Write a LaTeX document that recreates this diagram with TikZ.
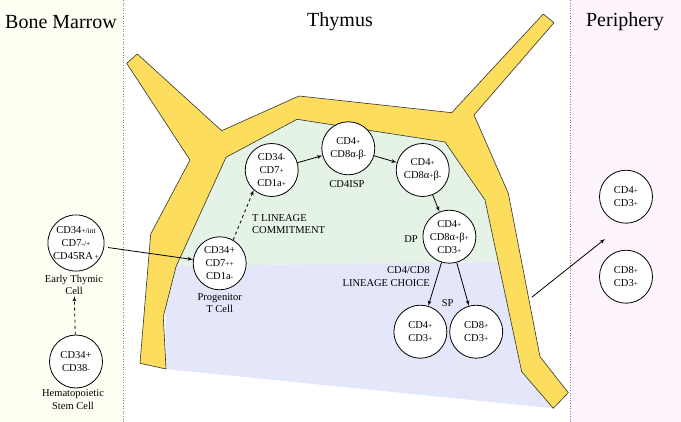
\documentclass[tikz,border=0pt]{standalone}
\usepackage{fontspec}
\setmainfont{Liberation Serif}
\usetikzlibrary{arrows}
\definecolor{marrowbg}{HTML}{FFFEF3}
\definecolor{peribg}{HTML}{FEF4FD}
\definecolor{cortex}{HTML}{E5F2E6}
\definecolor{medulla}{HTML}{E4E6FA}
\definecolor{capsule}{HTML}{FDDD5E}
\newcommand{\cdsign}[1]{{\fontsize{7.5}{8}\selectfont #1}}
\tikzset{
    cell/.style={circle,draw,fill=white,line width=0.8pt,minimum size=53pt,inner sep=0pt,align=center,font=\fontsize{10.5}{13}\selectfont},
    edge/.style={->,> = latex',line width=0.8pt},
    txt/.style={align=center,font=\fontsize{10.5}{12.5}\selectfont,inner sep=1pt},
    title/.style={font=\fontsize{20}{22}\selectfont}
}

\begin{document}
\begin{tikzpicture}[x=1pt,y=-1pt]
\useasboundingbox (0,0) rectangle (681,422);
\fill[marrowbg] (0,0) rectangle (123,422);
\fill[peribg] (570,0) rectangle (681,422);
\draw[gray,dotted,line width=0.6pt] (123,0) -- (123,422);
\draw[gray,dotted,line width=0.6pt] (570,0) -- (570,422);

\node[title] (bm) at (61,22) {Bone Marrow};
\node[title] (thy) at (340,22) {Thymus};
\node[title] (peri) at (625,22) {Periphery};

% cortex and medulla
\fill[cortex] (220,150) -- (297,112) -- (450,135) -- (490,200) -- (500,262) -- (165,266) -- cycle;
\fill[medulla] (165,266) -- (500,262) -- (530,372) -- (553.3,408.3) -- (166,369) -- cycle;
% capsule
\draw[fill=capsule,draw=black!80,line width=0.6pt,line join=round]
  (126.7,63.3) -- (137.3,54) -- (221.7,130.7) -- (299,96) -- (451.7,112.7)
  -- (543.3,14) -- (554,22.7) -- (474,115) -- (508.3,193.3) -- (540,356.7)
  -- (568.3,392.7) -- (553.3,408.3) -- (521.7,371.7) -- (485,200) -- (445,142)
  -- (297,119.3) -- (226,157.3) -- (176,266.7) -- (163.3,316.7) -- (166,369)
  -- (140,363.3) -- (150.7,234) -- (190,160) -- cycle;

\node[cell] (hsc) at (76,361.5) {CD34+\\CD38\cdsign{-}};
\node[txt] (hsclabel) at (73,399.5) {Hematopoietic\\Stem Cell};
\node[cell] (etc) at (76,243) {CD34\cdsign{+/int}\\CD7\cdsign{-/+}\\CD45RA\,\cdsign{+}};
\node[txt] (etclabel) at (74,285) {Early Thymic\\Cell};

\node[cell] (prog) at (219.7,263.3) {CD34+\\CD7\cdsign{++}\\CD1a\cdsign{-}};
\node[txt] (proglabel) at (219.7,303) {Progenitor\\T Cell};
\node[cell] (dn) at (271.7,170) {CD34\cdsign{-}\\CD7\cdsign{+}\\CD1a\cdsign{+}};
\node[txt,align=left,anchor=west] (commit) at (251,224) {T LINEAGE\\COMMITMENT};
\node[cell] (isp) at (348.3,148.3) {CD4\cdsign{+}\\CD8α\cdsign{-}β\cdsign{-}};
\node[txt] (isplabel) at (347,184) {CD4ISP};
\node[cell] (ab) at (422.7,170) {CD4\cdsign{+}\\CD8α\cdsign{+}β\cdsign{-}};
\node[cell] (dp) at (449.4,236.7) {CD4\cdsign{+}\\CD8α\cdsign{+}β\cdsign{+}\\CD3\cdsign{+}};
\node[txt] (dplabel) at (411,239) {DP};
\node[txt,align=right,anchor=east] (choice) at (431,276.5) {CD4/CD8\\LINEAGE CHOICE};
\node[txt] (splabel) at (447.6,303.3) {SP};
\node[cell] (sp4) at (420.4,331.7) {CD4\cdsign{+}\\CD3\cdsign{+}};
\node[cell] (sp8) at (476.2,331.7) {CD8\cdsign{+}\\CD3\cdsign{+}};

\node[cell] (p4) at (626,196.7) {CD4\cdsign{+}\\CD3\cdsign{+}};
\node[cell] (p8) at (626,276.7) {CD8\cdsign{+}\\CD3\cdsign{+}};
\coordinate (wallout) at (531.7,297.3);
\coordinate (periin) at (605,239);

\draw[edge,dashed] (hsc) -- (etclabel);
\draw[edge,shorten <=4pt] (etc) -- (prog);
\draw[edge,dashed] (prog.60) -- (dn.228);
\draw[edge] (dn) -- (isp);
\draw[edge] (isp) -- (ab);
\draw[edge] (ab) -- (dp);
\draw[edge] (dp) -- (sp4);
\draw[edge] (dp) -- (sp8);
\draw[edge] (wallout) -- (periin);

\end{tikzpicture}
\end{document}
